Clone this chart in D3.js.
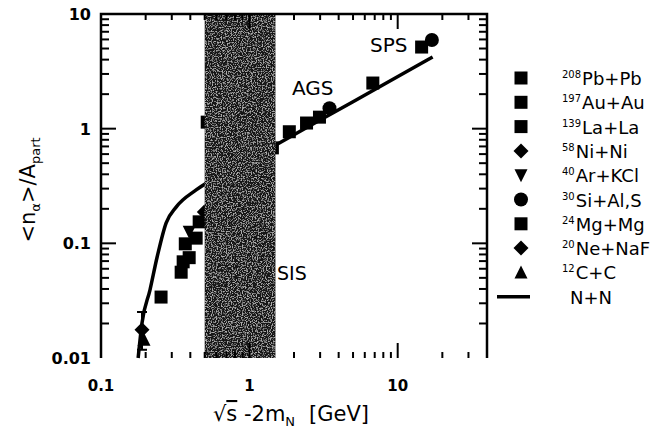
<!DOCTYPE html>
<html>
<head>
<meta charset="utf-8">
<script src="https://cdn.jsdelivr.net/npm/d3@7"></script>
<style>
  body { margin: 0; background: #fff; }
  svg { display: block; font-family: "DejaVu Sans", "Liberation Sans", Arial, sans-serif; }
</style>
</head>
<body>
<div id="chart"></div>
<script>
// alpha multiplicity per participant vs available energy, log-log

// axis ticks
var xLabelTicks = [0.1, 1, 10];
var yLabelTicks = [0.01, 0.1, 1, 10];

// shaded SIS energy band [GeV]
var sisBand = [0.5, 1.5];

// data points [x, y] per reaction
var pbPb = [[14.5, 5.15], [6.8, 2.5]];
var auAu = [[1.43, 0.68], [1.86, 0.94], [2.43, 1.12], [2.97, 1.26],
            [0.347, 0.056], [0.393, 0.075], [0.438, 0.111], [0.459, 0.154]];
var laLa = [[0.254, 0.034], [0.358, 0.069], [0.52, 1.14]];
var niNi = [[0.497, 0.188]];
var arKCl = [[0.393, 0.126]];
var siAl = [[17.0, 5.93], [3.47, 1.51]];
var mgMg = [[0.370, 0.099]];
var neNaF = [[0.189, 0.0176]];
var cC = [[0.195, 0.0144]];
// error bar for the lowest point [x, lo, hi]
var errBars = [[0.189, 0.0118, 0.0252]];

// N+N reference curve
var nnX = [0.178, 0.189, 0.214, 0.239, 0.275, 0.321, 0.438, 0.733, 1.08, 1.55, 5, 17.2];
var nnY = [0.01, 0.0202, 0.0393, 0.076, 0.151, 0.207, 0.292, 0.43, 0.566, 0.736, 1.72, 4.22];

var legendItems = [
  {sup: "208", name: "Pb+Pb", shape: "square", data: pbPb},
  {sup: "197", name: "Au+Au", shape: "square", data: auAu},
  {sup: "139", name: "La+La", shape: "square", data: laLa},
  {sup: "58", name: "Ni+Ni", shape: "diamond", data: niNi},
  {sup: "40", name: "Ar+KCl", shape: "down", data: arKCl},
  {sup: "30", name: "Si+Al,S", shape: "circle", data: siAl},
  {sup: "24", name: "Mg+Mg", shape: "square", data: mgMg},
  {sup: "20", name: "Ne+NaF", shape: "diamond", data: neNaF},
  {sup: "12", name: "C+C", shape: "up", data: cC}
];

var width = 665, height = 436;
var pL = 101, pR = 487, pT = 14, pB = 358;

var svg = d3.select("#chart").append("svg")
  .attr("width", width)
  .attr("height", height);

var x = d3.scaleLog().domain([0.1, 40]).range([pL, pR]);
var y = d3.scaleLog().domain([0.01, 10]).range([pB, pT]);

//N+N curve
var nn = nnX.map((v, i) => [v, nnY[i]]);
svg.append("path")
  .datum(nn)
  .attr("d", d3.line().x(d => x(d[0])).y(d => y(d[1])).curve(d3.curveMonotoneX))
  .attr("fill", "none")
  .attr("stroke", "#000")
  .attr("stroke-width", 3.5);

//markers
function marker(g, shape, cx, cy) {
  if (shape === "square") {
    g.append("rect").attr("x", cx - 6.5).attr("y", cy - 6.5).attr("width", 13).attr("height", 13);
  } else if (shape === "circle") {
    g.append("circle").attr("cx", cx).attr("cy", cy).attr("r", 7);
  } else if (shape === "diamond") {
    g.append("path").attr("d", `M${cx},${cy - 7.5}L${cx + 7.5},${cy}L${cx},${cy + 7.5}L${cx - 7.5},${cy}Z`);
  } else if (shape === "down") {
    g.append("path").attr("d", `M${cx - 6.5},${cy - 6}L${cx + 6.5},${cy - 6}L${cx},${cy + 7}Z`);
  } else {
    g.append("path").attr("d", `M${cx - 6.5},${cy + 6}L${cx + 6.5},${cy + 6}L${cx},${cy - 7}Z`);
  }
}

var pts = svg.append("g").attr("fill", "#000");
errBars.forEach(e => {
  pts.append("line").attr("x1", x(e[0])).attr("x2", x(e[0]))
    .attr("y1", y(e[1])).attr("y2", y(e[2]))
    .attr("stroke", "#000").attr("stroke-width", 2);
  [e[1], e[2]].forEach(v => pts.append("line")
    .attr("x1", x(e[0]) - 5).attr("x2", x(e[0]) + 5)
    .attr("y1", y(v)).attr("y2", y(v))
    .attr("stroke", "#000").attr("stroke-width", 2));
});
legendItems.forEach(it => {
  it.data.forEach(d => marker(pts, it.shape, x(d[0]), y(d[1])));
});

//grainy texture for the band
var defs = svg.append("defs");
var filt = defs.append("filter").attr("id", "grain")
  .attr("x", 0).attr("y", 0).attr("width", 1).attr("height", 1);
filt.append("feTurbulence")
  .attr("type", "fractalNoise")
  .attr("baseFrequency", 0.8)
  .attr("numOctaves", 2)
  .attr("seed", 7)
  .attr("result", "noise");
filt.append("feColorMatrix")
  .attr("in", "noise")
  .attr("type", "matrix")
  .attr("values", "0 0 0 0 0.42  0 0 0 0 0.42  0 0 0 0 0.42  0 0 0 -4.5 2.3")
  .attr("result", "dots");
filt.append("feComposite").attr("in", "dots").attr("in2", "SourceGraphic").attr("operator", "in").attr("result", "d2");
filt.append("feMerge").call(m => {
  m.append("feMergeNode").attr("in", "SourceGraphic");
  m.append("feMergeNode").attr("in", "d2");
});

//band sits over the marks, as in the scan
svg.append("rect")
  .attr("x", x(sisBand[0]))
  .attr("y", pT)
  .attr("width", x(sisBand[1]) - x(sisBand[0]))
  .attr("height", pB - pT)
  .attr("fill", "#151515")
  .attr("filter", "url(#grain)");

//frame: left, top, right (bottom edge is faded in the scan)
svg.append("path")
  .attr("d", `M${pL},${pB}V${pT}H${pR}V${pB}`)
  .attr("fill", "none")
  .attr("stroke", "#000")
  .attr("stroke-width", 2.5);

//ticks, all pointing inward
var isMajor = v => Math.abs(Math.log10(v) - Math.round(Math.log10(v))) < 1e-6;
var xt = x.ticks().filter(v => v > 0.1 && v < 40);
var yt = y.ticks().filter(v => v > 0.01 && v < 10);
var tk = svg.append("g").attr("stroke", "#000").attr("stroke-width", 2);
xt.forEach(v => {
  var len = isMajor(v) ? 15 : 6;
  tk.append("line").attr("x1", x(v)).attr("x2", x(v)).attr("y1", pB).attr("y2", pB - len);
  tk.append("line").attr("x1", x(v)).attr("x2", x(v)).attr("y1", pT).attr("y2", pT + len);
});
yt.forEach(v => {
  var len = isMajor(v) ? 15 : 8;
  tk.append("line").attr("x1", pL).attr("x2", pL + len).attr("y1", y(v)).attr("y2", y(v));
  tk.append("line").attr("x1", pR).attr("x2", pR - len).attr("y1", y(v)).attr("y2", y(v));
});

//tick labels
svg.append("g").selectAll("text").data(xLabelTicks).enter().append("text")
  .attr("x", d => x(d))
  .attr("y", 391)
  .attr("text-anchor", "middle")
  .attr("font-size", 15)
  .attr("font-weight", "bold")
  .text(d => d);
svg.append("g").selectAll("text").data(yLabelTicks).enter().append("text")
  .attr("x", 91)
  .attr("y", d => y(d) + 6)
  .attr("text-anchor", "end")
  .attr("font-size", 16)
  .attr("font-weight", "bold")
  .text(d => d);

//axis titles
var yt1 = svg.append("text")
  .attr("transform", "translate(35,190) rotate(-90)")
  .attr("text-anchor", "middle")
  .attr("font-size", 21);
yt1.append("tspan").text("<n");
yt1.append("tspan").attr("font-size", 13).attr("dy", 5).text("α");
yt1.append("tspan").attr("dy", -5).text(">/A");
yt1.append("tspan").attr("font-size", 13).attr("dy", 5).text("part");

var xt1 = svg.append("text")
  .attr("x", 291)
  .attr("y", 421)
  .attr("text-anchor", "middle")
  .attr("font-size", 21);
xt1.append("tspan").text("√");
xt1.append("tspan").style("text-decoration", "overline").text("s");
xt1.append("tspan").text(" -2m");
xt1.append("tspan").attr("font-size", 13).attr("dy", 5).text("N");
xt1.append("tspan").attr("dy", -5).attr("dx", 14).text("[GeV]");

//accelerator labels
svg.append("text").attr("x", 370).attr("y", 52).attr("font-size", 20).text("SPS");
svg.append("text").attr("x", 292).attr("y", 95).attr("font-size", 20).text("AGS");
svg.append("text").attr("x", 277).attr("y", 280).attr("font-size", 19).text("SIS");

//legend
var lg = svg.append("g");
var rowY = i => 78 + i * 24.3;
legendItems.forEach((it, i) => {
  marker(lg, it.shape, 521, rowY(i));
  var t = lg.append("text").attr("x", 562).attr("y", rowY(i) + 7).attr("font-size", 18);
  t.append("tspan").attr("font-size", 10).attr("dy", -7).text(it.sup);
  t.append("tspan").attr("dy", 7).attr("dx", 1).text(it.name);
});
var nnRow = rowY(legendItems.length);
lg.append("line").attr("x1", 497).attr("x2", 530).attr("y1", nnRow).attr("y2", nnRow)
  .attr("stroke", "#000").attr("stroke-width", 3.5);
lg.append("text").attr("x", 570).attr("y", nnRow + 7).attr("font-size", 18).text("N+N");
</script>
</body>
</html>
